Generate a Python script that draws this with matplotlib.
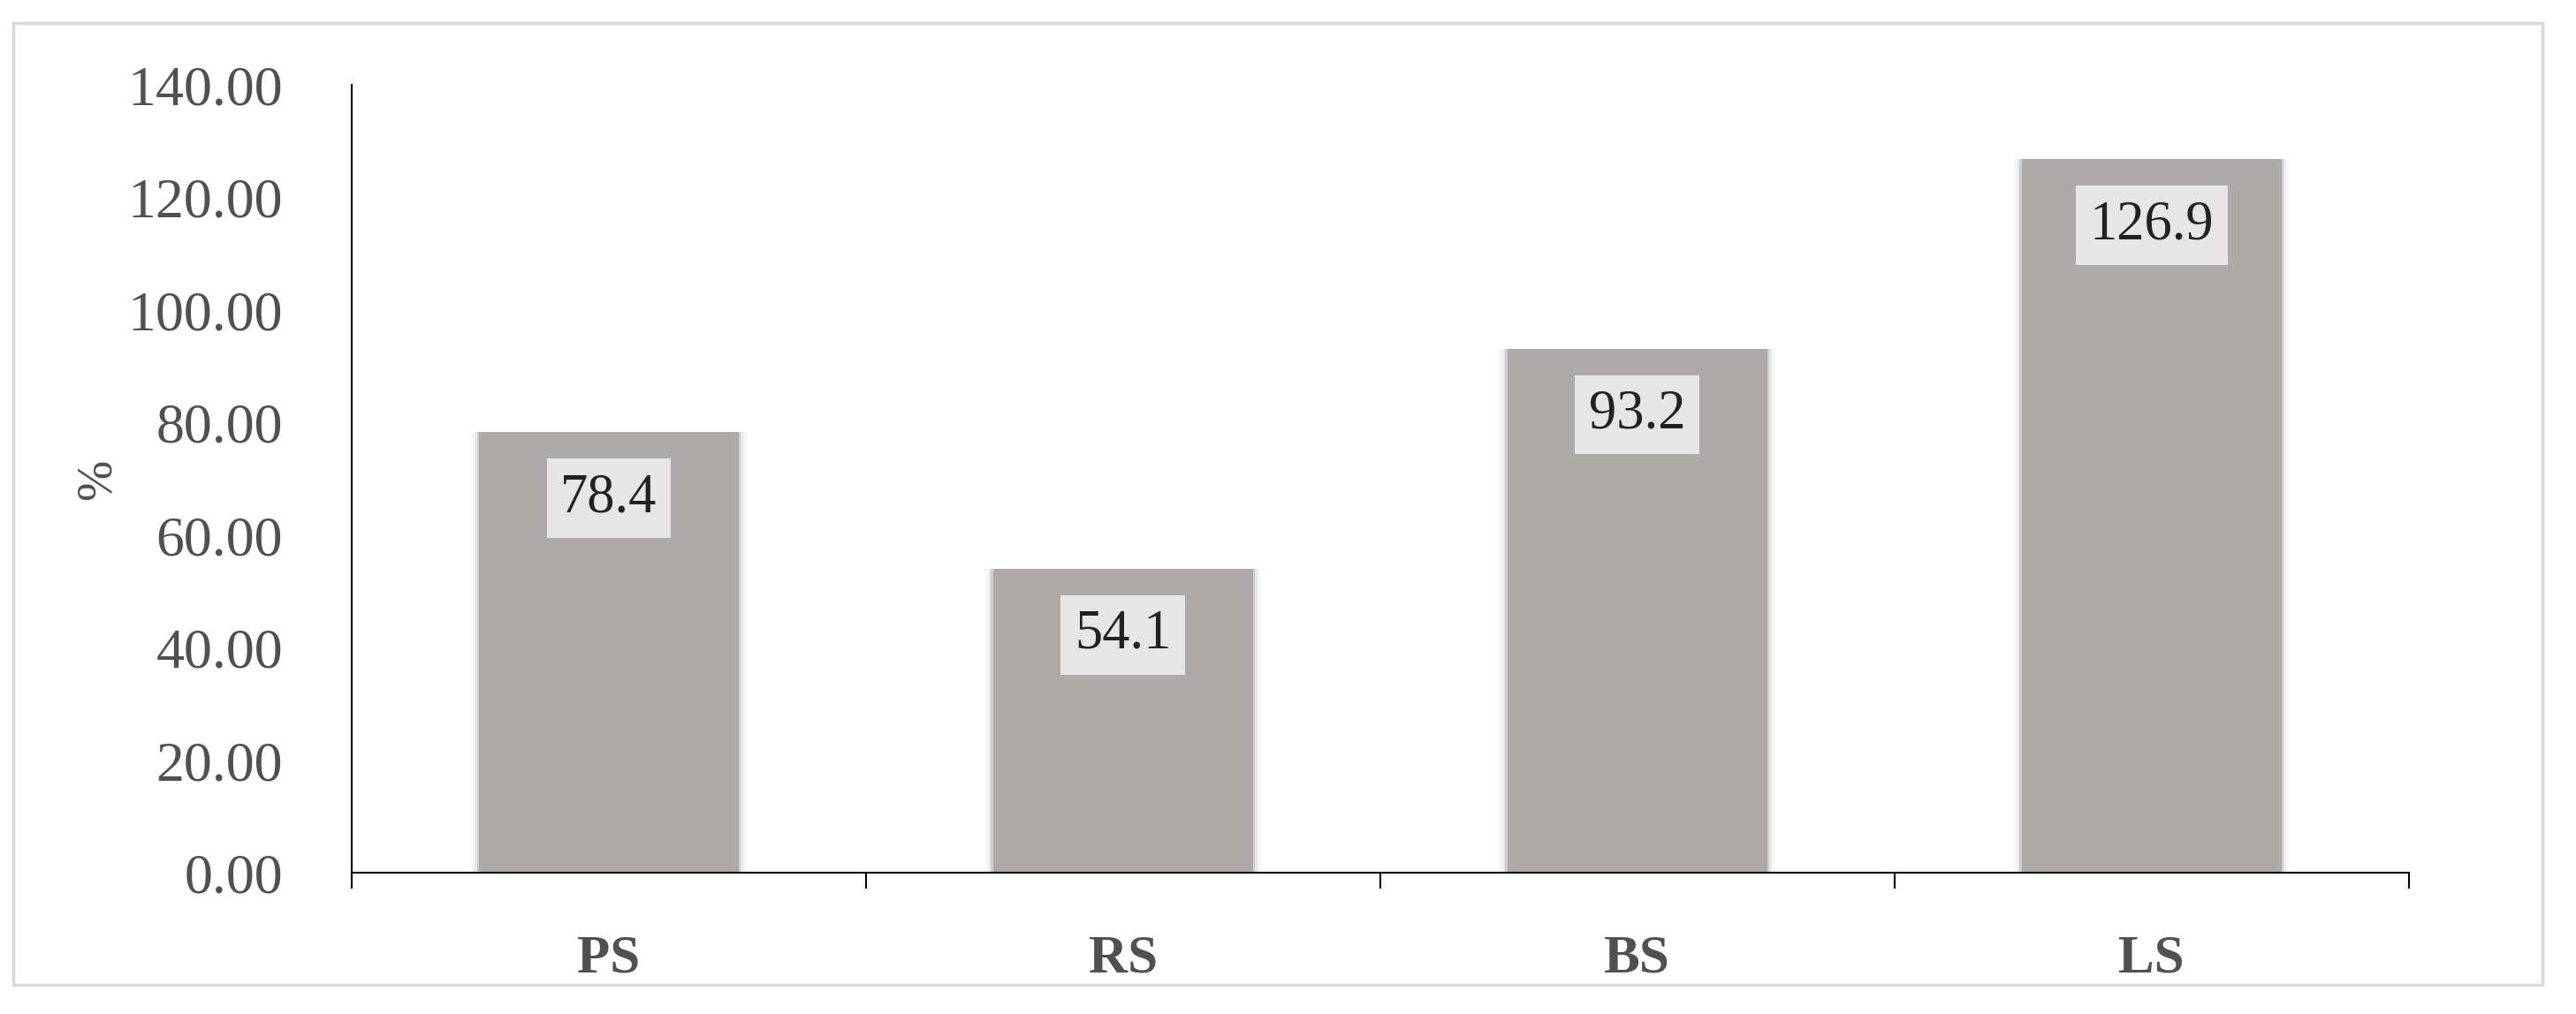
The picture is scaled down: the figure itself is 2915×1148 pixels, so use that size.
import matplotlib
matplotlib.use("Agg")
import matplotlib.pyplot as plt
from matplotlib.patches import Rectangle

categories = ["PS", "RS", "BS", "LS"]
values = [78.4, 54.1, 93.2, 126.9]
value_labels = ["78.4", "54.1", "93.2", "126.9"]
y_ticks = [0, 20, 40, 60, 80, 100, 120, 140]

BAR_COLOR = "#aeaaaa"
BOX_COLOR = "#e7e6e6"
TEXT_COLOR = "#505050"

plt.rcParams["font.family"] = ["Liberation Serif", "DejaVu Serif"]

fig = plt.figure(figsize=(29.15, 11.48), dpi=100)
ax = fig.add_axes([0.1365, 0.139, 0.7985, 0.777])

x = list(range(len(categories)))

# soft shadow around the bars
for w, a in [(0.535, 0.08), (0.522, 0.16), (0.513, 0.3)]:
    ax.bar(x, values, width=w, color="#9a9696", alpha=a, linewidth=0, zorder=1)
ax.bar(x, values, width=0.505, color=BAR_COLOR, linewidth=0, zorder=2)

for xi, v, lab in zip(x, values, value_labels):
    ax.text(xi, v - 11.8, lab, ha="center", va="center", fontsize=45,
            color="#222222", zorder=3,
            bbox=dict(boxstyle="square,pad=0.25", facecolor=BOX_COLOR, edgecolor="none"))

ax.set_xlim(-0.5, len(categories) - 0.5)
ax.set_ylim(0, 140)
ax.set_yticks(y_ticks)
ax.set_yticklabels([f"{t:.2f}" for t in y_ticks])
ax.set_xticks(x)
ax.set_xticklabels(categories, fontweight="bold")
ax.set_xticks([i - 0.5 for i in range(len(categories) + 1)], minor=True)

ax.tick_params(axis="y", length=0, pad=56, labelsize=46, labelcolor=TEXT_COLOR)
ax.tick_params(axis="x", which="major", length=0, pad=50, labelsize=44, labelcolor=TEXT_COLOR)
ax.tick_params(axis="x", which="minor", length=13, width=1.5, direction="out", color="black")

for side in ["top", "right"]:
    ax.spines[side].set_visible(False)
ax.spines["left"].set_linewidth(1.5)
ax.spines["bottom"].set_linewidth(1.5)

ax.set_ylabel("%", fontsize=40, color=TEXT_COLOR, labelpad=6)

# chart area border
fig.patches.append(Rectangle((0.005, 0.029), 0.982, 0.948, transform=fig.transFigure,
                             fill=False, edgecolor="#d9d9d9", linewidth=2.5))

fig.savefig("out.png", dpi=100)
